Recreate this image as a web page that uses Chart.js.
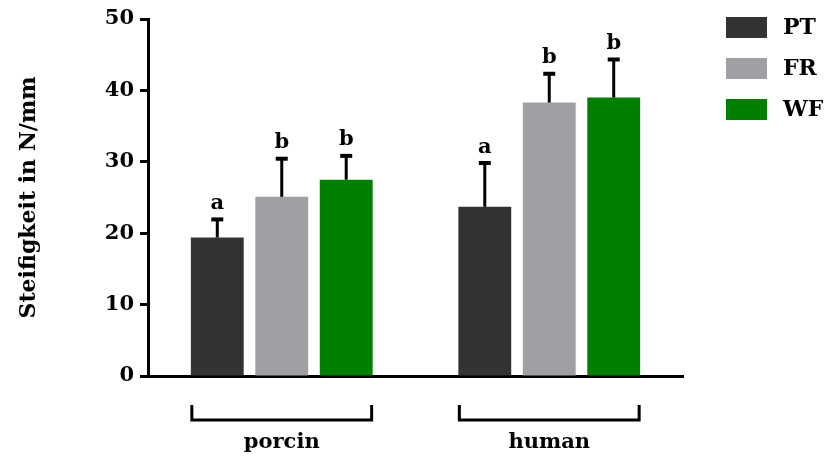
<!DOCTYPE html>
<html lang="de">
<head>
    <meta charset="UTF-8">
    <title>Steifigkeit</title>
    <script src="https://cdn.jsdelivr.net/npm/chart.js"></script>
    <style>
        html, body { margin: 0; padding: 0; background: #fff; }
        #wrap { width: 825px; height: 456px; position: relative; }
    </style>
</head>
<body>
    <div id="wrap"><canvas id="barChart"></canvas></div>

    <script>
        // data
        const categories = ['porcin', 'human'];
        const groups = ['PT', 'FR', 'WF'];
        const ptMean = [19.4, 23.7];
        const ptErr = [2.6, 6.2];
        const frMean = [25.1, 38.3];
        const frErr = [5.4, 4.1];
        const wfMean = [27.5, 39.0];
        const wfErr = [3.4, 5.4];
        const ptSig = ['a', 'a'];
        const frSig = ['b', 'b'];
        const wfSig = ['b', 'b'];
        const yTicks = [0, 10, 20, 30, 40, 50];

        const colors = ['#333333', '#A0A0A4', '#008000'];
        const FONT = '"DejaVu Serif", serif';

        const errs = [ptErr, frErr, wfErr];
        const sigs = [ptSig, frSig, wfSig];

        // error bars, letters, brackets, legend
        const extras = {
            id: 'extras',
            afterDatasetsDraw(chart) {
                const ctx = chart.ctx;
                const y = chart.scales.y;
                ctx.save();
                ctx.strokeStyle = '#000';
                ctx.fillStyle = '#000';
                ctx.lineWidth = 3;
                ctx.font = 'bold 21px ' + FONT;
                ctx.textAlign = 'center';
                ctx.textBaseline = 'alphabetic';
                chart.data.datasets.forEach((ds, di) => {
                    const meta = chart.getDatasetMeta(di);
                    meta.data.forEach((bar, i) => {
                        const top = y.getPixelForValue(ds.data[i]);
                        const cap = y.getPixelForValue(ds.data[i] + errs[di][i]);
                        ctx.lineWidth = 3;
                        ctx.beginPath();
                        ctx.moveTo(bar.x, top);
                        ctx.lineTo(bar.x, cap);
                        ctx.stroke();
                        ctx.lineWidth = 4;
                        ctx.beginPath();
                        ctx.moveTo(bar.x - 6, cap + 0.5);
                        ctx.lineTo(bar.x + 6, cap + 0.5);
                        ctx.stroke();
                        ctx.fillText(sigs[di][i], bar.x, cap - 10);
                    });
                });

                // group brackets + names
                ctx.lineWidth = 3;
                const first = chart.getDatasetMeta(0).data;
                const last = chart.getDatasetMeta(chart.data.datasets.length - 1).data;
                categories.forEach((c, i) => {
                    const x0 = first[i].x - first[i].width / 2 + 1;
                    const x1 = last[i].x + last[i].width / 2 - 1;
                    ctx.beginPath();
                    ctx.moveTo(x0, 405);
                    ctx.lineTo(x0, 420);
                    ctx.lineTo(x1, 420);
                    ctx.lineTo(x1, 405);
                    ctx.stroke();
                    ctx.textBaseline = 'middle';
                    ctx.fillText(c, (x0 + x1) / 2, 443);
                });

                // legend
                ctx.font = 'bold 22px ' + FONT;
                ctx.textAlign = 'left';
                ctx.textBaseline = 'middle';
                chart.data.datasets.forEach((ds, di) => {
                    const cy = 27.5 + di * 41;
                    ctx.fillStyle = ds.backgroundColor;
                    ctx.fillRect(726, cy - 10.5, 41, 21);
                    ctx.fillStyle = '#000';
                    ctx.fillText(ds.label, 783, cy + 1);
                });
                ctx.restore();
            }
        };

        new Chart(document.getElementById('barChart'), {
            type: 'bar',
            data: {
                labels: categories,
                datasets: [
                    { label: groups[0], data: ptMean, backgroundColor: colors[0] },
                    { label: groups[1], data: frMean, backgroundColor: colors[1] },
                    { label: groups[2], data: wfMean, backgroundColor: colors[2] }
                ]
            },
            options: {
                responsive: true,
                maintainAspectRatio: false,
                animation: false,
                layout: { padding: { left: 0, top: 19, right: 142, bottom: 80 } },
                datasets: { bar: { categoryPercentage: 0.723, barPercentage: 0.82 } },
                plugins: { legend: { display: false }, tooltip: { enabled: false } },
                scales: {
                    x: {
                        ticks: { display: false },
                        grid: { display: false },
                        border: { display: true, color: '#000', width: 3 },
                        afterFit(s) { s.height = 0; }
                    },
                    y: {
                        min: 0,
                        max: 50,
                        afterBuildTicks(s) { s.ticks = yTicks.map(v => ({ value: v })); },
                        ticks: {
                            color: '#000',
                            padding: 6,
                            font: { family: FONT, size: 21, weight: 'bold' }
                        },
                        grid: {
                            drawOnChartArea: false,
                            drawTicks: true,
                            tickLength: 8,
                            tickWidth: 3,
                            tickColor: '#000'
                        },
                        border: { display: true, color: '#000', width: 3 },
                        title: {
                            display: true,
                            text: 'Steifigkeit in N/mm',
                            color: '#000',
                            padding: { top: 16, bottom: 0 },
                            font: { family: FONT, size: 22, weight: 'bold' }
                        },
                        afterFit(s) { s.width = 148; }
                    }
                }
            },
            plugins: [extras]
        });
    </script>
</body>
</html>
